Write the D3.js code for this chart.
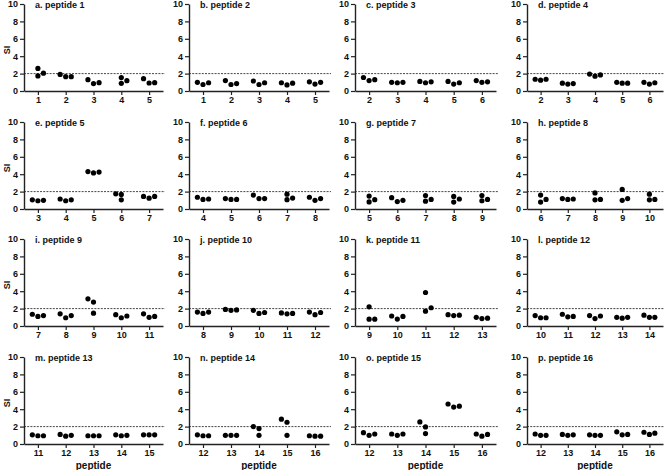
<!DOCTYPE html>
<html>
<head>
<meta charset="utf-8">
<script src="https://cdn.jsdelivr.net/npm/d3@7"></script>
<style>
  body { margin: 0; background: #fff; }
  text { font-family: "Liberation Sans", Arial, sans-serif; font-weight: bold; fill: #111; }
</style>
</head>
<body>
<script>
// panel titles
const titles = ['a. peptide 1', 'b. peptide 2', 'c. peptide 3', 'd. peptide 4',
  'e. peptide 5', 'f. peptide 6', 'g. peptide 7', 'h. peptide 8',
  'i. peptide 9', 'j. peptide 10', 'k. peptide 11', 'l. peptide 12',
  'm. peptide 13', 'n. peptide 14', 'o. peptide 15', 'p. peptide 16'];

// x categories of each panel
const cats = [
  [1, 2, 3, 4, 5], [1, 2, 3, 4, 5], [2, 3, 4, 5, 6], [2, 3, 4, 5, 6],
  [3, 4, 5, 6, 7], [4, 5, 6, 7, 8], [5, 6, 7, 8, 9], [6, 7, 8, 9, 10],
  [7, 8, 9, 10, 11], [8, 9, 10, 11, 12], [9, 10, 11, 12, 13], [10, 11, 12, 13, 14],
  [11, 12, 13, 14, 15], [12, 13, 14, 15, 16], [12, 13, 14, 15, 16], [12, 13, 14, 15, 16]
];

// SI values, three replicates per category
const values = [
  [[2.6, 1.73, 2.05], [1.9, 1.65, 1.65], [1.3, 0.85, 0.96], [1.54, 0.88, 1.19], [1.42, 0.92, 0.96]],
  [[1.0, 0.75, 0.95], [1.2, 0.75, 0.85], [1.15, 0.75, 0.95], [0.95, 0.7, 0.9], [1.05, 0.8, 1.0]],
  [[1.55, 1.2, 1.3], [1.0, 0.95, 1.0], [1.1, 0.95, 1.05], [1.1, 0.8, 0.95], [1.2, 1.0, 1.05]],
  [[1.35, 1.25, 1.35], [0.9, 0.8, 0.85], [1.95, 1.7, 1.85], [1.0, 0.9, 0.9], [1.0, 0.8, 0.95]],
  [[1.05, 0.95, 1.0], [1.15, 0.95, 1.05], [4.3, 4.15, 4.25], [1.74, 1.67, 1.05], [1.45, 1.25, 1.45]],
  [[1.35, 1.1, 1.15], [1.2, 1.1, 1.1], [1.6, 1.2, 1.2], [1.7, 1.07, 1.26], [1.35, 1.0, 1.2]],
  [[1.48, 0.81, 1.07], [1.3, 0.85, 1.0], [1.55, 0.9, 1.1], [1.45, 0.8, 1.15], [1.55, 0.95, 1.1]],
  [[1.6, 0.8, 1.1], [1.2, 1.1, 1.15], [1.85, 1.05, 1.1], [2.25, 1.0, 1.2], [1.7, 1.05, 1.1]],
  [[1.35, 1.1, 1.2], [1.4, 0.95, 1.2], [3.12, 2.75, 1.47], [1.3, 0.95, 1.15], [1.4, 1.0, 1.1]],
  [[1.6, 1.45, 1.6], [1.9, 1.8, 1.85], [1.8, 1.45, 1.55], [1.5, 1.4, 1.45], [1.6, 1.3, 1.55]],
  [[2.2, 0.78, 0.78], [1.15, 0.8, 1.1], [3.85, 1.7, 2.1], [1.3, 1.2, 1.25], [1.0, 0.85, 0.9]],
  [[1.2, 0.95, 0.95], [1.35, 1.05, 1.1], [1.2, 0.85, 1.15], [1.0, 0.9, 1.0], [1.25, 1.0, 1.0]],
  [[1.05, 0.95, 0.95], [1.1, 0.9, 1.0], [0.95, 0.95, 0.95], [1.05, 0.95, 1.0], [1.05, 1.05, 1.05]],
  [[1.05, 0.95, 0.95], [1.0, 1.0, 1.0], [2.0, 1.77, 1.0], [2.85, 2.5, 1.0], [0.95, 0.9, 0.9]],
  [[1.3, 1.0, 1.15], [1.15, 1.0, 1.15], [2.54, 1.96, 1.2], [4.6, 4.25, 4.35], [1.15, 0.9, 1.1]],
  [[1.15, 1.0, 1.0], [1.1, 1.0, 1.05], [1.05, 1.0, 1.0], [1.4, 1.05, 1.1], [1.35, 1.1, 1.25]]
];

// how the three dots of a group are spread: r = left/mid/right, R = mid/mid/right, L = left/mid/mid
const spread = [
  'RrrRr', 'rrrrr', 'rrrrr', 'rrrrr',
  'rrrLr', 'rrrRr', 'RrRRR', 'RrRRR',
  'rrLrr', 'rrrrr', 'RrRrr', 'rrrrr',
  'rrrrr', 'rrLLr', 'rrLrr', 'rrrrr'
];
const slots = { r: [-1, 0, 1], R: [0, 0, 1], L: [-1, 0, 0] };

const yTicks = [0, 2, 4, 6, 8, 10];
const threshold = 2;

const W = 664, H = 470;
const colX = [24, 189, 355, 527];
const colW = [139, 140, 141, 136];
const rowY = [4, 122, 239, 357];
const ph = 87;

const svg = d3.select('body').append('svg')
  .attr('width', W)
  .attr('height', H);

titles.forEach((title, i) => {
  const col = i % 4, row = Math.floor(i / 4);
  const pw = colW[col];
  const g = svg.append('g')
    .attr('transform', 'translate(' + colX[col] + ',' + rowY[row] + ')');

  const x = d3.scalePoint()
    .domain(cats[i])
    .range([0, pw])
    .padding(0.5);
  const step = x.step();

  const y = d3.scaleLinear()
    .domain([0, 10])
    .range([ph, 0]);

  // dashed line at SI = 2
  g.append('line')
    .attr('x1', 0)
    .attr('x2', pw + 2)
    .attr('y1', y(threshold))
    .attr('y2', y(threshold))
    .attr('stroke', '#333')
    .attr('stroke-width', 0.9)
    .attr('stroke-dasharray', '2,1.2');

  const yAxis = g.append('g')
    .call(d3.axisLeft(y).tickValues(yTicks).tickSize(4).tickSizeOuter(0));
  const xAxis = g.append('g')
    .attr('transform', 'translate(0,' + ph + ')')
    .call(d3.axisBottom(x).tickSize(4).tickSizeOuter(0));

  [yAxis, xAxis].forEach(a => {
    a.select('.domain').attr('stroke', '#222').attr('stroke-width', 1.4);
    a.selectAll('.tick line').attr('stroke', '#222').attr('stroke-width', 1.2);
    a.selectAll('.tick text')
      .style('font-family', '"Liberation Sans", Arial, sans-serif')
      .style('font-weight', 'bold')
      .style('font-size', '9px')
      .attr('fill', '#111');
  });
  yAxis.selectAll('.tick text').attr('x', -6);
  xAxis.selectAll('.tick text').attr('y', 5.5);

  // dots
  const pts = [];
  values[i].forEach((grp, k) => {
    const s = slots[spread[i][k]];
    grp.forEach((v, j) => pts.push({ c: cats[i][k], v: v, s: s[j] }));
  });
  g.selectAll('circle')
    .data(pts)
    .enter()
    .append('circle')
    .attr('cx', d => x(d.c) + d.s * step * 0.2)
    .attr('cy', d => y(d.v))
    .attr('r', 2.6)
    .attr('fill', '#000');

  g.append('text')
    .attr('x', 11)
    .attr('y', 3.5)
    .style('font-size', '9px')
    .text(title);

  if (col === 0) {
    svg.append('text')
      .attr('transform', 'translate(10,' + (rowY[row] + 46) + ') rotate(-90)')
      .attr('text-anchor', 'middle')
      .style('font-size', '9px')
      .text('SI');
  }
  if (row === 3) {
    svg.append('text')
      .attr('x', colX[col] + pw / 2)
      .attr('y', 469)
      .attr('text-anchor', 'middle')
      .style('font-size', '10px')
      .text('peptide');
  }
});
</script>
</body>
</html>
